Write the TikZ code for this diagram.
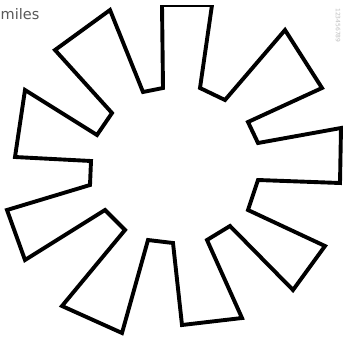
\documentclass[tikz,border=0pt]{standalone}
\usepackage{fontspec}
\setmainfont{DejaVu Sans}
\begin{document}
\begin{tikzpicture}[x=1pt,y=-1pt,
  gearline/.style={line width=3.9pt, line join=miter, draw=black},
  lbl/.style={text=black!65, font=\fontsize{14.5}{14.5}\selectfont, inner sep=0pt},
  sidecode/.style={text=black!25, font=\fontsize{6}{6}\selectfont, inner sep=0pt}]
\useasboundingbox (0,0) rectangle (345,338);
\fill[white] (0,0) rectangle (345,338);
\begin{scope}
\clip (0,5.6) rectangle (345,338);
\draw[gearline] (162,5) -- (212,5) -- (200,88) -- (225,100) -- (285,30) -- (322,88)
  -- (248,122) -- (258,143) -- (341,128) -- (340,183) -- (258,180) -- (248,210)
  -- (325,246) -- (293,290) -- (230,226) -- (207,240) -- (242,318) -- (182,325)
  -- (173,243) -- (148,240) -- (122,333) -- (62,306) -- (125,230) -- (105,210)
  -- (25,260) -- (7,210) -- (90,185) -- (91,161) -- (15,157) -- (25,90)
  -- (97,135) -- (112,113) -- (55,50) -- (110,10) -- (143,92) -- (163,88) -- cycle;
\end{scope}
\node[lbl, anchor=base west] (title) at (0.5,19) {miles};
\node[sidecode, rotate=-90, anchor=west] (code) at (338,8) {123456789};
\end{tikzpicture}
\end{document}
